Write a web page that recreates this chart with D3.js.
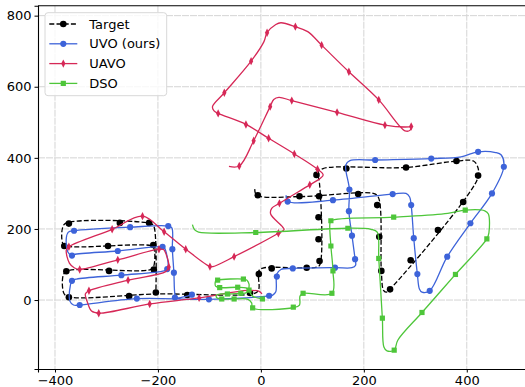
<!DOCTYPE html>
<html>
<head>
<meta charset="utf-8">
<script src="https://cdn.jsdelivr.net/npm/d3@7"></script>
<style>
  html, body { margin: 0; padding: 0; background: #fff; }
  svg { display: block; font-family: "DejaVu Sans", sans-serif; }
</style>
</head>
<body>
<div id="chart"></div>
<script>
// tick values
const xTicks = [-400, -200, 0, 200, 400];
const yTicks = [0, 200, 400, 600, 800];

// series (x, y)
const targetPath = [[-12,312],[-8,295],[78,291],[218,300],[228,290],[234,82],[238,28],[243,22],[253,34],
  [420,338],[422,371],[413,391],[380,391],[282,373],[121,370],[109,357],[113,338],[115,101],[109,93],
  [4,90],[-4,82],[-4,31],[-10,20],[-204,17],[-370,8],[-382,17],[-384,70],[-376,82],[-214,86],[-208,96],
  [-208,146],[-214,153],[-378,152],[-385,160],[-385,205],[-378,217],[-214,215],[-208,208],[-204,21]];
const targetMarks = [[-6,295],[75,292],[113,292],[189,298],[226,267],[230,178],[234,82],[251,30],[291,112],
  [344,197],[393,276],[422,350],[380,391],[282,373],[166,370],[108,352],[112,233],[112,171],[114,110],
  [89,91],[21,89],[-4,73],[-21,20],[-143,14],[-256,11],[-373,8],[-378,81],[-295,82],[-208,86],[-209,155],
  [-297,152],[-382,152],[-373,215],[-274,217],[-217,217],[-204,21]];

const uvoPath = [[49,295],[53,277],[140,281],[256,298],[282,300],[289,290],[292,267],[297,174],[304,73],
  [308,31],[313,22],[328,26],[362,122],[407,216],[449,300],[472,375],[467,408],[456,415],[422,417],
  [389,403],[331,398],[222,394],[173,392],[165,380],[172,311],[171,250],[177,181],[183,115],[184,98],
  [177,91],[144,91],[62,89],[39,86],[31,73],[29,23],[23,14],[16,12],[-101,2],[-241,4],[-352,-14],
  [-364,-14],[-371,-3],[-370,42],[-367,54],[-358,59],[-271,70],[-188,82],[-182,87],[-180,96],[-187,146],
  [-191,150],[-278,138],[-363,128],[-367,125],[-375,135],[-378,174],[-374,191],[-363,195],[-254,205],
  [-180,208],[-173,203],[-172,143],[-169,77],[-167,17],[-164,7],[-134,15]];
const uvoMarks = [[52,277],[140,281],[256,298],[292,267],[297,174],[304,73],[328,26],[362,122],[407,216],
  [449,300],[472,375],[422,417],[331,398],[222,394],[172,311],[171,250],[177,181],[183,115],[144,91],
  [62,89],[31,66],[16,12],[-101,2],[-241,4],[-352,-14],[-367,54],[-271,70],[-182,87],[-191,150],
  [-278,138],[-367,125],[-363,195],[-254,205],[-180,208],[-172,143],[-169,77],[-167,7],[-134,15]];

const uavoPath = [[-62,376],[-42,377],[-14,448],[18,544],[25,564],[35,570],[60,561],[148,528],[241,492],
  [288,487],[292,488],[290,478],[280,476],[229,563],[171,642],[118,717],[91,755],[67,769],[39,780],
  [29,775],[12,752],[6,727],[-19,672],[-71,583],[-94,544],[-91,532],[-83,525],[-29,494],[15,455],
  [65,411],[110,368],[121,352],[115,342],[95,324],[36,272],[21,258],[19,242],[42,206],[45,198],[34,188],
  [-52,122],[-93,94],[-99,94],[-146,143],[-188,192],[-230,236],[-289,199],[-373,150],[-378,141],
  [-372,104],[-362,90],[-352,86],[-278,113],[-198,143],[-189,142],[-185,132],[-179,93],[-185,80],
  [-258,56],[-334,26],[-341,17],[-337,-6],[-329,-31],[-315,-37],[-216,-11],[-120,6],[-26,27],[-4,25],[2,17]];
const uavoMarks = [[-42,377],[-14,448],[18,544],[60,561],[148,528],[241,492],[292,488],[229,563],
  [171,642],[118,717],[67,769],[12,752],[-19,672],[-71,583],[-83,525],[-29,494],[15,455],[65,411],
  [110,368],[95,324],[36,272],[34,188],[-52,122],[-99,94],[-146,143],[-188,192],[-230,236],[-289,199],
  [-373,150],[-352,86],[-278,113],[-198,143],[-179,93],[-258,56],[-334,26],[-315,-37],[-216,-11],[-120,6]];

const dsoPath = [[-133,212],[-129,198],[-121,191],[-10,190],[169,202],[214,199],[226,191],[229,117],
  [236,-51],[239,-132],[245,-143],[259,-141],[266,-113],[313,-35],[378,72],[439,172],[443,189],[442,242],
  [435,251],[397,253],[363,244],[258,233],[136,223],[134,214],[136,152],[140,82],[138,19],[82,19],[76,11],
  [75,-14],[64,-21],[-16,-22],[-18,-8],[-25,2],[-52,3],[-76,3],[-86,7],[-86,14],[-78,17],[-65,17],
  [-39,19],[-29,20],[-25,28],[-29,34],[-45,36],[-80,35],[-88,39],[-88,53],[-84,56],[-34,59],[-27,56],
  [-23,45],[-23,28],[-16,11],[3,3]];
const dsoMarks = [[-10,190],[169,202],[229,117],[236,-51],[259,-141],[313,-35],[378,72],[439,172],
  [397,253],[258,233],[136,223],[136,152],[140,82],[138,19],[82,19],[63,-20],[-16,-22],[-52,3],[-76,3],
  [-65,17],[-39,19],[-45,36],[-80,35],[-84,56],[-34,59],[-23,28],[3,3]];

const series = [
  { name: "Target",     path: targetPath, marks: targetMarks, color: "#000000", marker: "circle",  dash: "5,2.2" },
  { name: "UVO (ours)", path: uvoPath,    marks: uvoMarks,    color: "#3d63d9", marker: "hex",     dash: null },
  { name: "UAVO",       path: uavoPath,   marks: uavoMarks,   color: "#d62857", marker: "thin",    dash: null },
  { name: "DSO",        path: dsoPath,    marks: dsoMarks,    color: "#4ec63a", marker: "square",  dash: null }
];

const W = 525, H = 387;
const pL = 38, pT = 5.7, pB = 369, pR = 527;

const x = d3.scaleLinear().domain([-433, 517]).range([pL, pR]);
const y = d3.scaleLinear().domain([-194, 828]).range([pB, pT]);

const svg = d3.select("#chart").append("svg")
  .attr("width", W).attr("height", H);

// grid
svg.append("g").selectAll("line").data(xTicks).join("line")
  .attr("x1", d => x(d)).attr("x2", d => x(d))
  .attr("y1", pT).attr("y2", pB)
  .attr("stroke", "#d4d4d4").attr("stroke-width", 1).attr("stroke-dasharray", "7,1");
svg.append("g").selectAll("line").data(yTicks).join("line")
  .attr("x1", pL).attr("x2", pR)
  .attr("y1", d => y(d)).attr("y2", d => y(d))
  .attr("stroke", "#d4d4d4").attr("stroke-width", 1).attr("stroke-dasharray", "7,1");

svg.append("clipPath").attr("id", "clip")
  .append("rect").attr("x", pL).attr("y", pT).attr("width", pR - pL).attr("height", pB - pT);

const line = d3.line()
  .x(d => x(d[0])).y(d => y(d[1]))
  .curve(d3.curveCatmullRom.alpha(0.5));

function markerPath(type) {
  if (type === "thin") return "M0,-4.2L2.1,0L0,4.2L-2.1,0Z";
  if (type === "square") return "M-2.6,-2.6H2.6V2.6H-2.6Z";
  if (type === "hex") return d3.symbol(d3.symbolCircle, 30)();
  return d3.symbol(d3.symbolCircle, 34)();
}

const plot = svg.append("g").attr("clip-path", "url(#clip)");
series.forEach(s => {
  plot.append("path")
    .datum(s.path)
    .attr("fill", "none")
    .attr("stroke", s.color)
    .attr("stroke-width", 1.3)
    .attr("stroke-dasharray", s.dash)
    .attr("stroke-linejoin", "round")
    .attr("d", line);
  plot.selectAll(null)
    .data(s.marks)
    .join("path")
    .attr("transform", d => `translate(${x(d[0])},${y(d[1])})`)
    .attr("d", markerPath(s.marker))
    .attr("fill", s.color);
});

// axes
svg.append("g")
  .attr("transform", `translate(0,${pB})`)
  .call(d3.axisBottom(x).tickValues(xTicks).tickSize(3.5).tickPadding(3.5))
  .call(g => g.select(".domain").attr("stroke-width", 1.1))
  .call(g => g.selectAll("text").attr("font-size", 13).attr("fill", "#000").attr("font-family", "DejaVu Sans"));
svg.append("g")
  .attr("transform", `translate(${pL},0)`)
  .call(d3.axisLeft(y).tickValues(yTicks).tickSize(3.5).tickPadding(3))
  .call(g => g.select(".domain").attr("stroke-width", 1.1))
  .call(g => g.selectAll("text").attr("font-size", 13).attr("fill", "#000").attr("font-family", "DejaVu Sans"));
svg.append("line")
  .attr("x1", pL).attr("x2", pR).attr("y1", pT).attr("y2", pT)
  .attr("stroke", "#000").attr("stroke-width", 1.1);

// legend
const legend = svg.append("g").attr("transform", "translate(45,12.7)");
legend.append("rect")
  .attr("width", 121.7).attr("height", 83)
  .attr("rx", 3)
  .attr("fill", "#fff").attr("fill-opacity", 0.8)
  .attr("stroke", "#d8d8d8");
series.forEach((s, i) => {
  const ly = 11.3 + i * 19.8;
  legend.append("line")
    .attr("x1", 4.3).attr("x2", 32.3).attr("y1", ly).attr("y2", ly)
    .attr("stroke", s.color).attr("stroke-width", 1.3)
    .attr("stroke-dasharray", s.dash);
  legend.append("path")
    .attr("transform", `translate(18.3,${ly})`)
    .attr("d", markerPath(s.marker))
    .attr("fill", s.color);
  legend.append("text")
    .attr("x", 44.3).attr("y", ly + 4.6)
    .attr("font-size", 13)
    .text(s.name);
});
</script>
</body>
</html>
